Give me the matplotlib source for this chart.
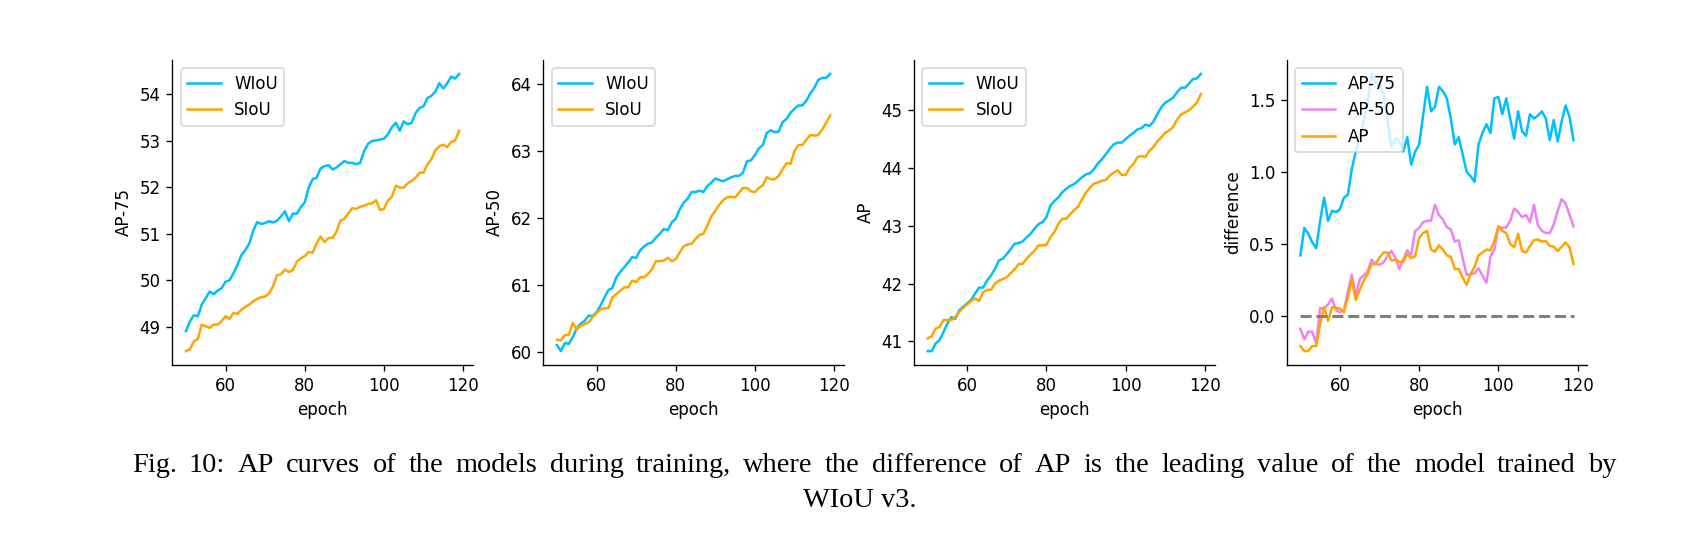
import numpy as np
import matplotlib
matplotlib.use("Agg")
import matplotlib.pyplot as plt

epochs = np.arange(50, 120)

ap75_wiou = [48.91, 49.12, 49.25, 49.23, 49.48, 49.62, 49.76, 49.70, 49.78, 49.83,
             49.97, 50.00, 50.15, 50.33, 50.54, 50.65, 50.79, 51.07, 51.25, 51.21,
             51.23, 51.27, 51.24, 51.28, 51.37, 51.48, 51.27, 51.43, 51.43, 51.57,
             51.67, 51.99, 52.17, 52.20, 52.40, 52.45, 52.47, 52.38, 52.42, 52.49,
             52.56, 52.52, 52.52, 52.49, 52.52, 52.77, 52.93, 52.99, 53.00, 53.02,
             53.04, 53.13, 53.28, 53.38, 53.21, 53.41, 53.35, 53.38, 53.59, 53.70,
             53.73, 53.91, 53.96, 54.05, 54.23, 54.12, 54.23, 54.37, 54.33, 54.43]
ap75_siou = [48.48, 48.52, 48.69, 48.74, 49.05, 49.01, 48.98, 49.05, 49.05, 49.12,
             49.23, 49.17, 49.30, 49.28, 49.37, 49.43, 49.48, 49.55, 49.60, 49.64,
             49.65, 49.72, 49.87, 50.11, 50.13, 50.23, 50.18, 50.22, 50.40, 50.47,
             50.52, 50.61, 50.59, 50.79, 50.94, 50.82, 50.91, 50.91, 51.04, 51.28,
             51.32, 51.43, 51.55, 51.53, 51.58, 51.60, 51.64, 51.65, 51.72, 51.51,
             51.53, 51.71, 51.79, 52.03, 51.99, 51.99, 52.08, 52.13, 52.20, 52.31,
             52.31, 52.49, 52.60, 52.79, 52.88, 52.91, 52.86, 52.97, 53.00, 53.21]

ap50_wiou = [60.11, 60.02, 60.14, 60.13, 60.23, 60.36, 60.43, 60.47, 60.55, 60.54,
             60.60, 60.70, 60.82, 60.93, 60.96, 61.12, 61.20, 61.27, 61.34, 61.42,
             61.41, 61.52, 61.58, 61.62, 61.64, 61.71, 61.77, 61.84, 61.82, 61.94,
             61.99, 62.13, 62.23, 62.29, 62.39, 62.39, 62.41, 62.39, 62.48, 62.53,
             62.59, 62.57, 62.55, 62.58, 62.61, 62.63, 62.63, 62.68, 62.85, 62.86,
             62.94, 63.04, 63.09, 63.27, 63.31, 63.28, 63.29, 63.43, 63.48, 63.57,
             63.63, 63.68, 63.68, 63.75, 63.86, 63.94, 64.06, 64.09, 64.09, 64.15]
ap50_siou = [60.19, 60.18, 60.26, 60.26, 60.44, 60.34, 60.40, 60.42, 60.45, 60.53,
             60.59, 60.64, 60.66, 60.66, 60.82, 60.87, 60.92, 60.97, 60.97, 61.07,
             61.05, 61.12, 61.12, 61.17, 61.24, 61.36, 61.36, 61.37, 61.41, 61.36,
             61.39, 61.49, 61.58, 61.61, 61.62, 61.69, 61.75, 61.77, 61.89, 62.03,
             62.11, 62.20, 62.27, 62.31, 62.32, 62.31, 62.38, 62.45, 62.45, 62.40,
             62.39, 62.45, 62.49, 62.61, 62.58, 62.58, 62.63, 62.73, 62.82, 62.81,
             63.00, 63.09, 63.09, 63.17, 63.24, 63.23, 63.24, 63.32, 63.42, 63.53]

ap_wiou = [40.83, 40.83, 40.96, 41.02, 41.16, 41.31, 41.42, 41.39, 41.54, 41.60,
           41.66, 41.72, 41.83, 41.93, 41.93, 42.05, 42.14, 42.25, 42.40, 42.43,
           42.51, 42.60, 42.69, 42.70, 42.73, 42.80, 42.86, 42.95, 43.03, 43.06,
           43.15, 43.35, 43.43, 43.49, 43.58, 43.64, 43.69, 43.72, 43.78, 43.84,
           43.89, 43.91, 43.98, 44.08, 44.15, 44.24, 44.33, 44.41, 44.44, 44.44,
           44.50, 44.56, 44.61, 44.67, 44.69, 44.75, 44.73, 44.80, 44.93, 45.05,
           45.13, 45.17, 45.22, 45.31, 45.39, 45.39, 45.46, 45.54, 45.55, 45.63]
ap_siou = [41.05, 41.09, 41.22, 41.25, 41.37, 41.37, 41.37, 41.42, 41.51, 41.58,
           41.64, 41.70, 41.74, 41.70, 41.85, 41.89, 41.89, 42.00, 42.05, 42.08,
           42.11, 42.18, 42.25, 42.34, 42.34, 42.43, 42.50, 42.57, 42.66, 42.66,
           42.67, 42.80, 42.89, 43.03, 43.12, 43.12, 43.20, 43.27, 43.33, 43.46,
           43.58, 43.66, 43.73, 43.75, 43.78, 43.79, 43.87, 43.92, 43.96, 43.88,
           43.88, 44.00, 44.07, 44.19, 44.21, 44.19, 44.30, 44.36, 44.46, 44.53,
           44.61, 44.65, 44.71, 44.84, 44.93, 44.96, 45.00, 45.06, 45.13, 45.28]

diff_ap75 = [0.42, 0.61, 0.57, 0.51, 0.47, 0.66, 0.82, 0.66, 0.73, 0.72,
             0.74, 0.82, 0.84, 1.02, 1.14, 1.25, 1.35, 1.48, 1.68, 1.62,
             1.60, 1.54, 1.36, 1.17, 1.23, 1.22, 1.14, 1.24, 1.05, 1.14,
             1.19, 1.39, 1.59, 1.42, 1.45, 1.59, 1.56, 1.51, 1.37, 1.19,
             1.24, 1.12, 1.00, 0.97, 0.93, 1.19, 1.27, 1.33, 1.27, 1.51,
             1.52, 1.40, 1.51, 1.37, 1.23, 1.42, 1.28, 1.25, 1.40, 1.37,
             1.39, 1.42, 1.37, 1.22, 1.36, 1.21, 1.35, 1.46, 1.38, 1.22]
diff_ap50 = [-0.09, -0.165, -0.11, -0.11, -0.19, 0.055, 0.05, 0.08, 0.12, 0.04,
             0.025, 0.04, 0.17, 0.285, 0.14, 0.255, 0.28, 0.31, 0.39, 0.36,
             0.355, 0.37, 0.415, 0.45, 0.405, 0.325, 0.39, 0.455, 0.425, 0.59,
             0.61, 0.65, 0.66, 0.66, 0.77, 0.70, 0.67, 0.615, 0.60, 0.515,
             0.525, 0.40, 0.285, 0.29, 0.295, 0.33, 0.28, 0.23, 0.41, 0.46,
             0.62, 0.61, 0.615, 0.66, 0.745, 0.72, 0.685, 0.70, 0.65, 0.77,
             0.63, 0.59, 0.575, 0.575, 0.635, 0.73, 0.81, 0.78, 0.70, 0.62]
diff_ap = [-0.21, -0.245, -0.245, -0.21, -0.21, -0.055, 0.06, -0.035, 0.06, 0.055,
           0.05, 0.025, 0.13, 0.25, 0.11, 0.18, 0.245, 0.29, 0.36, 0.36,
           0.405, 0.44, 0.44, 0.385, 0.39, 0.375, 0.375, 0.43, 0.40, 0.415,
           0.54, 0.575, 0.59, 0.46, 0.445, 0.49, 0.46, 0.42, 0.41, 0.325,
           0.325, 0.265, 0.215, 0.29, 0.34, 0.42, 0.44, 0.46, 0.455, 0.52,
           0.62, 0.59, 0.575, 0.50, 0.475, 0.57, 0.45, 0.44, 0.485, 0.525,
           0.53, 0.515, 0.52, 0.485, 0.48, 0.45, 0.48, 0.51, 0.475, 0.36]

caption_line1 = ("Fig. 10: AP curves of the models during training, where the difference "
                 "of AP is the leading value of the model trained by")
caption_line2 = "WIoU v3."

fig = plt.figure(figsize=(14.2, 4.45), dpi=120)
W, H = 1704, 534
lefts = [172.3, 543.3, 914, 1286.7]
axes = [fig.add_axes([l / W, 1 - 365 / H, 300.5 / W, 305 / H]) for l in lefts]

blue, orange, violet = 'deepskyblue', 'orange', 'violet'

panels = [(ap75_wiou, ap75_siou, 'AP-75', [49, 50, 51, 52, 53, 54]),
          (ap50_wiou, ap50_siou, 'AP-50', [60, 61, 62, 63, 64]),
          (ap_wiou, ap_siou, 'AP', [41, 42, 43, 44, 45])]
for ax, (w, s, name, yt) in zip(axes[:3], panels):
    ax.plot(epochs, w, color=blue, label='WIoU')
    ax.plot(epochs, s, color=orange, label='SIoU')
    ax.set_ylabel(name)
    ax.set_yticks(yt)
    ax.legend(loc='upper left')

ax = axes[3]
ax.plot(epochs, diff_ap75, color=blue, label='AP-75')
ax.plot(epochs, diff_ap50, color=violet, label='AP-50')
ax.plot(epochs, diff_ap, color=orange, label='AP')
ax.hlines(0, epochs[0], epochs[-1], colors='gray', linestyles='--', lw=1.8)
ax.set_ylabel('difference')
ax.set_yticks([0.0, 0.5, 1.0, 1.5])
ax.legend(loc='upper left')

for ax in axes:
    ax.set_xlabel('epoch')
    ax.set_xticks([60, 80, 100, 120])
    ax.spines['top'].set_visible(False)
    ax.spines['right'].set_visible(False)


def justify(words, x0, x1, y, **kw):
    # place words so the line fills x0..x1 (pixel coords)
    r = fig.canvas.get_renderer()
    texts = [fig.text(0, y, wd, va='baseline', **kw) for wd in words]
    widths = [t.get_window_extent(r).width for t in texts]
    gap = (x1 - x0 - sum(widths)) / (len(words) - 1)
    x = x0
    for t, wd in zip(texts, widths):
        t.set_x(x / W)
        x += wd + gap


cap_kw = dict(family='Liberation Serif', fontsize=17)
justify(caption_line1.split(), 131.7, 1616.7, 1 - 472.3 / H, **cap_kw)
fig.text(860 / W, 1 - 507.3 / H, caption_line2, ha='center', va='baseline', **cap_kw)

fig.savefig('out.png', dpi=120)
